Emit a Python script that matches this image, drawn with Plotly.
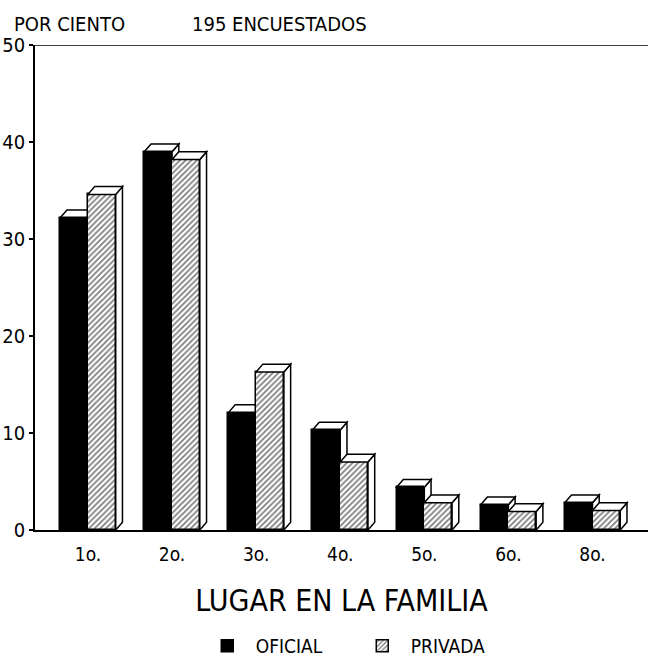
import plotly.graph_objects as go

categories = ["1o.", "2o.", "3o.", "4o.", "5o.", "6o.", "8o."]
oficial = [32.2, 39.0, 12.1, 10.3, 4.4, 2.6, 2.8]
privada = [34.6, 38.2, 16.3, 7.0, 2.8, 1.9, 2.0]
y_ticks = [0, 10, 20, 30, 40, 50]

FONT = "DejaVu Sans Condensed, Liberation Sans, Arial"
bw = 0.33
dx = 0.08
dy = 0.8

idx = list(range(len(categories)))
x_of = [i - bw / 2 for i in idx]
x_pr = [i + bw / 2 for i in idx]

fig = go.Figure()
fig.add_trace(go.Bar(
    x=x_of, y=oficial, width=bw, name="OFICIAL",
    marker=dict(color="black", line=dict(color="black", width=1.5)),
))
fig.add_trace(go.Bar(
    x=x_pr, y=privada, width=bw, name="PRIVADA",
    marker=dict(color="white", line=dict(color="black", width=1.5),
                pattern=dict(shape="/", fgcolor="black", bgcolor="white",
                             size=4, solidity=0.45)),
))

shapes = []
def box3d(xc, v, layer):
    x0, x1 = xc - bw / 2, xc + bw / 2
    cap = f"M {x0},{v} L {x0+dx},{v+dy} L {x1+dx},{v+dy} L {x1},{v} Z"
    side = f"M {x1},0 L {x1+dx},{dy} L {x1+dx},{v+dy} L {x1},{v} Z"
    for p in (side, cap):
        shapes.append(dict(type="path", path=p, xref="x", yref="y",
                           fillcolor="white", line=dict(color="black", width=1.5),
                           layer=layer))

for xc, v in zip(x_of, oficial):
    box3d(xc, v, "below")
for xc, v in zip(x_pr, privada):
    box3d(xc, v, "above")

shapes.append(dict(type="line", xref="paper", yref="y", x0=0, x1=1, y0=50, y1=50,
                   line=dict(color="black", width=1.5)))

fig.update_layout(
    width=648, height=662,
    margin=dict(l=35, r=0, t=45, b=132, autoexpand=False),
    paper_bgcolor="white", plot_bgcolor="white",
    barmode="overlay", bargap=0,
    showlegend=True,
    legend=dict(orientation="h", x=0.52, xanchor="center", y=-0.2, yanchor="top",
                font=dict(family=FONT, size=19, color="black"),
                itemwidth=47, entrywidth=93, traceorder="normal"),
    shapes=shapes,
    font=dict(family=FONT, color="black"),
    annotations=[
        dict(text="POR CIENTO", xref="paper", yref="paper", x=-0.038, y=1.015,
             xanchor="left", yanchor="bottom", showarrow=False,
             font=dict(family=FONT, size=20, color="black")),
        dict(text="195 ENCUESTADOS", xref="paper", yref="paper", x=0.253, y=1.015,
             xanchor="left", yanchor="bottom", showarrow=False,
             font=dict(family=FONT, size=20, color="black")),
    ],
)
fig.update_xaxes(
    range=[-0.63, 6.66], tickvals=idx, ticktext=categories, automargin=False,
    showline=True, linecolor="black", linewidth=1.5, showgrid=False, zeroline=False,
    ticks="", ticklabelstandoff=6, tickfont=dict(family=FONT, size=19, color="black"),
    title=dict(text="LUGAR EN LA FAMILIA", font=dict(family=FONT, size=30, color="black"),
               standoff=26),
)
fig.update_yaxes(
    range=[0, 50], tickvals=y_ticks, showline=True, linecolor="black", linewidth=1.5,
    automargin=False,
    showgrid=False, zeroline=False, ticks="outside", ticklen=4, tickwidth=1.5,
    tickcolor="black", tickfont=dict(family=FONT, size=20, color="black"),
)

fig.write_html("out.html", config={"displayModeBar": False},
               post_script="document.body.style.margin='0';")
